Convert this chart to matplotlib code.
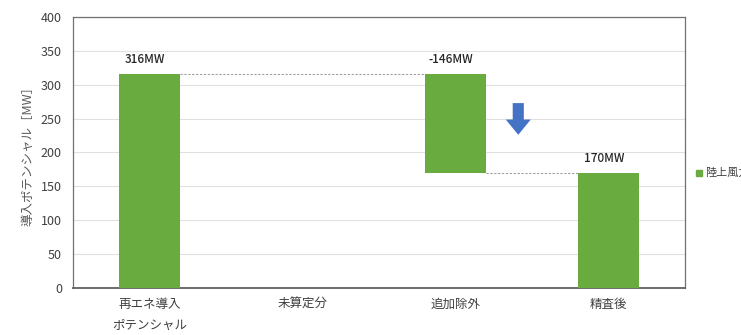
import matplotlib
matplotlib.use('Agg')
import matplotlib.pyplot as plt
import numpy as np

plt.rcParams['font.family'] = ['Noto Sans CJK JP', 'DejaVu Sans']

# data
categories = ['再エネ導入\nポテンシャル', '未算定分', '追加除外', '精査後']
bottoms = [0, 0, 170, 0]
heights = [316, 0, 146, 170]
labels = ['316MW', '', '-146MW', '170MW']
yticks = [0, 50, 100, 150, 200, 250, 300, 350, 400]

green = '#6AAB3F'
txt = '#404040'

fig = plt.figure(figsize=(7.41, 3.35), dpi=100)
ax = fig.add_axes([0.0985, 0.1403, 0.826, 0.809])

x = np.arange(len(categories))
ax.bar(x, heights, bottom=bottoms, width=0.4, color=green, zorder=3)

# data labels
for i in range(len(x)):
    if labels[i]:
        ax.text(x[i] - 0.03, bottoms[i] + heights[i] + 11, labels[i],
                ha='center', va='bottom', fontsize=8.5, color='#262626',
                fontweight='medium')

# connector lines
ax.plot([x[0] + 0.2, x[2] - 0.2], [316, 316], ls=(0, (2, 1.5)), color='#a0a0a0', lw=0.8, zorder=2)
ax.plot([x[2] + 0.2, x[3] - 0.2], [170, 170], ls=(0, (2, 1.5)), color='#a0a0a0', lw=0.8, zorder=2)

# blue arrow
ax.annotate('', xy=(2.41, 222), xytext=(2.41, 277),
            arrowprops=dict(arrowstyle='simple,head_width=1.8,head_length=1.1,tail_width=0.8',
                            color='#4472C4', lw=0), zorder=4)

ax.set_xlim(-0.5, 3.5)
ax.set_ylim(0, 400)
ax.set_yticks(yticks)
ax.set_xticks(x)
ax.set_xticklabels(categories, fontsize=9, color=txt, linespacing=1.8, va='top')
ax.tick_params(axis='y', labelsize=9, colors=txt, length=0, pad=8)
ax.tick_params(axis='x', length=0, pad=7)
ax.grid(axis='y', color='#e0e0e0', lw=0.8, zorder=0)
for s in ['top', 'left', 'right']:
    ax.spines[s].set_color('#707070')
    ax.spines[s].set_linewidth(0.9)
ax.spines['bottom'].set_color('#606060')
ax.spines['bottom'].set_linewidth(1.3)

ax.set_ylabel('導入ポテンシャル［MW］', fontsize=9, color='#595959', labelpad=5)

# legend (runs off the right edge, as in the reference)
fig.patches.append(plt.Rectangle((696 / 741, 1 - 176 / 335), 6 / 741, 6 / 335,
                                 transform=fig.transFigure, color=green))
fig.text(705 / 741, 1 - 173 / 335, '陸上風力', fontsize=8, color=txt, va='center')

fig.savefig('out.png', dpi=100)
